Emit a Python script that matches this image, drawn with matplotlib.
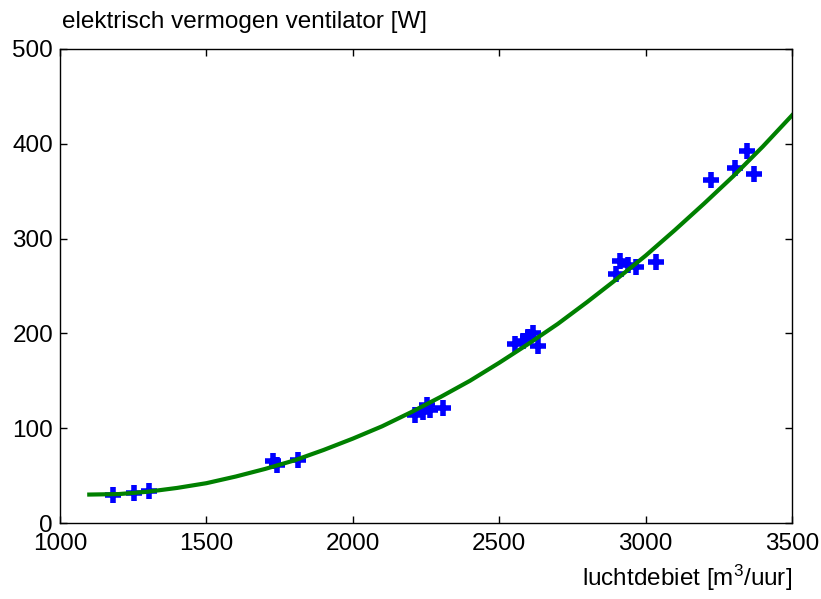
import matplotlib
matplotlib.use("Agg")
import matplotlib.pyplot as plt

plt.rcParams['font.family'] = ['Liberation Sans', 'DejaVu Sans']
plt.rcParams['mathtext.fontset'] = 'custom'
plt.rcParams['mathtext.rm'] = 'Liberation Sans'
plt.rcParams['mathtext.it'] = 'Liberation Sans'

# gemeten punten: luchtdebiet [m3/uur] en vermogen [W]
debiet = [1182, 1253, 1305,
          1728, 1740, 1812,
          2212, 2240, 2255, 2262, 2308,
          2555, 2582, 2600, 2616, 2632,
          2900, 2912, 2940, 2967, 3037,
          3225, 3305, 3345, 3370]
vermogen = [30, 32, 34,
            65, 61, 66,
            114, 117, 124, 119, 121,
            189, 192, 196, 200, 187,
            263, 276, 272, 270, 275,
            362, 374, 392, 368]

fit_x = [1100, 1200, 1300, 1400, 1500, 1600, 1700, 1800, 1900, 2000,
         2100, 2200, 2300, 2400, 2500, 2600, 2700, 2800, 2900, 3000,
         3100, 3200, 3300, 3400, 3500]
fit_y = [30, 30.5, 33, 37, 42, 49, 57, 66, 77, 89,
         102, 117, 133, 150, 169, 189, 210, 233, 257, 282,
         309, 337, 366, 397, 430]

xticks = [1000, 1500, 2000, 2500, 3000, 3500]
yticks = [0, 100, 200, 300, 400, 500]

fig = plt.figure(figsize=(8.21, 5.99), dpi=100)
ax = fig.add_axes([60/821, 1 - 523/599, 732/821, 474/599])

ax.plot(debiet, vermogen, linestyle='none', marker='+', color='blue',
        markersize=12, markeredgewidth=4)
ax.plot(fit_x, fit_y, color='#008000', linewidth=3)

ax.set_xlim(1000, 3500)
ax.set_ylim(0, 500)
ax.set_xticks(xticks)
ax.set_yticks(yticks)
ax.tick_params(direction='in', length=5, width=1, labelsize=17.5,
               top=True, right=True)
ax.tick_params(axis='x', pad=7)
ax.tick_params(axis='y', pad=5)
for s in ax.spines.values():
    s.set_linewidth(1)

fig.text(62/821, 1 - 22/599, 'elektrisch vermogen ventilator [W]',
         ha='left', va='center', fontsize=17.5)
fig.text(792/821, 1 - 578/599, r'luchtdebiet [m$^3$/uur]',
         ha='right', va='center', fontsize=17.5)

fig.savefig('out.png', dpi=100)
